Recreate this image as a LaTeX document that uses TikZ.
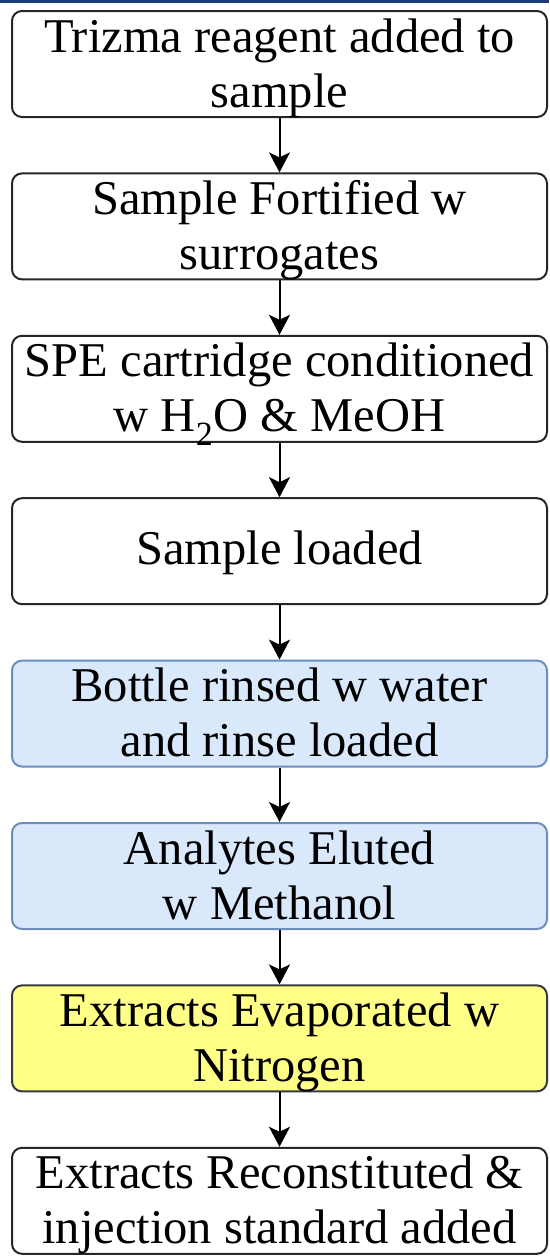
\documentclass[tikz,border=0pt]{standalone}
\usepackage{fontspec}
\setmainfont{Liberation Serif}
\usetikzlibrary{arrows.meta,positioning}

\definecolor{bandnavy}{HTML}{1B3D75}
\definecolor{rinseblue}{HTML}{DAE8FC}
\definecolor{rinseedge}{HTML}{6C8EBF}
\definecolor{dryyellow}{HTML}{FFFF88}
\definecolor{dryedge}{HTML}{36393D}

% box text: first baseline at #1 from the box centre, takes no height
\newcommand{\steptext}[2][12pt]{\raisebox{#1}[0pt][0pt]{\begin{tabular}[t]{@{}c@{}}#2\end{tabular}}}

\tikzset{
  stepbox/.style={draw=black!85, line width=2pt, rounded corners=10pt,
    minimum width=535pt, minimum height=106pt, inner sep=2pt,
    font=\fontsize{48.5}{55}\selectfont},
  rinsebox/.style={stepbox, draw=rinseedge, fill=rinseblue},
  drybox/.style={stepbox, draw=dryedge, fill=dryyellow},
  flow/.style={-{Stealth[width=21pt,length=20pt,inset=5pt]}, line width=2pt},
}

\begin{document}
\begin{tikzpicture}[x=1pt, y=1pt, node distance=54.4pt]
    \useasboundingbox (0,0) rectangle (549,-1258);
    % top band
    \fill[bandnavy] (0,0) rectangle (549,-3);

    % steps
    \node[stepbox] (trizma) at (279.5,-64) {\steptext{Trizma reagent added to\\sample}};
    \node[stepbox, below=of trizma] (fortify) {\steptext{Sample Fortified w\\surrogates}};
    \node[stepbox, below=of fortify] (spe) {\steptext{SPE cartridge conditioned\\w H\textsubscript{2}O \& MeOH}};
    \node[stepbox, below=of spe] (load) {\steptext[-13.5pt]{Sample loaded}};
    \node[rinsebox, below=of load] (rinse) {\steptext{Bottle rinsed w water\\and rinse loaded}};
    \node[rinsebox, below=of rinse] (elute) {\steptext{Analytes Eluted\\w Methanol}};
    \node[drybox, below=of elute] (evap) {\steptext{Extracts Evaporated w\\Nitrogen}};
    \node[stepbox, below=of evap] (recon) {\steptext{Extracts Reconstituted \&\\injection standard added}};

    % arrows
    \draw[flow] (trizma) -- (fortify);
    \draw[flow] (fortify) -- (spe);
    \draw[flow] (spe) -- (load);
    \draw[flow] (load) -- (rinse);
    \draw[flow] (rinse) -- (elute);
    \draw[flow] (elute) -- (evap);
    \draw[flow] (evap) -- (recon);
\end{tikzpicture}
\end{document}
